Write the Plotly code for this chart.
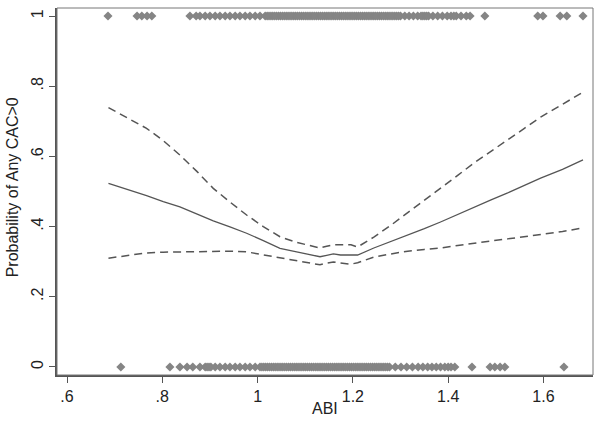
import plotly.graph_objects as go

# Fitted probability curve and confidence bounds
abi_fit = [0.687, 0.727, 0.767, 0.802, 0.837, 0.872, 0.907, 0.942, 0.977, 1.012, 1.047, 1.082,
           1.117, 1.131, 1.145, 1.159, 1.174, 1.196, 1.210, 1.244, 1.280, 1.315, 1.350, 1.384,
           1.420, 1.454, 1.490, 1.525, 1.560, 1.594, 1.640, 1.683]
prob = [0.523, 0.506, 0.488, 0.471, 0.456, 0.436, 0.416, 0.399, 0.381, 0.360, 0.338, 0.328,
        0.318, 0.314, 0.318, 0.322, 0.319, 0.319, 0.319, 0.339, 0.357, 0.376, 0.394, 0.413,
        0.435, 0.456, 0.476, 0.496, 0.517, 0.538, 0.563, 0.590]
upper = [0.739, 0.710, 0.680, 0.645, 0.604, 0.558, 0.509, 0.470, 0.433, 0.400, 0.371, 0.355,
         0.343, 0.339, 0.344, 0.348, 0.348, 0.348, 0.342, 0.370, 0.404, 0.439, 0.474, 0.510,
         0.546, 0.581, 0.614, 0.647, 0.680, 0.712, 0.748, 0.783]
lower = [0.310, 0.318, 0.325, 0.327, 0.328, 0.329, 0.330, 0.330, 0.328, 0.320, 0.310, 0.302,
         0.294, 0.291, 0.296, 0.299, 0.296, 0.293, 0.297, 0.313, 0.322, 0.330, 0.335, 0.339,
         0.346, 0.353, 0.359, 0.365, 0.371, 0.376, 0.386, 0.396]

# Observed ABI values with CAC>0 (y = 1)
abi_cac1 = [0.686, 0.747, 0.757, 0.768, 0.778, 0.858, 0.871, 0.879, 0.890, 0.900, 0.911, 0.921,
            0.932, 0.942, 0.953, 0.963, 0.974, 0.984, 0.995, 1.005,
            1.016, 1.020, 1.024, 1.028, 1.032, 1.036, 1.040, 1.044, 1.048, 1.052, 1.056, 1.060,
            1.064, 1.068, 1.072, 1.076, 1.080, 1.084, 1.088, 1.092, 1.096, 1.100, 1.104, 1.108,
            1.112, 1.116, 1.120, 1.124, 1.128, 1.132, 1.136, 1.140, 1.144, 1.148, 1.152, 1.156,
            1.160, 1.164, 1.168, 1.172, 1.176, 1.180, 1.184, 1.188, 1.192, 1.196, 1.200, 1.204,
            1.208, 1.212, 1.216, 1.220, 1.224, 1.228, 1.232, 1.236, 1.240, 1.244, 1.248, 1.252,
            1.256, 1.260, 1.264, 1.268, 1.272, 1.276, 1.280, 1.284, 1.288, 1.292, 1.296, 1.300,
            1.309, 1.318, 1.327, 1.336, 1.343, 1.347, 1.351, 1.355, 1.359, 1.368, 1.378, 1.388,
            1.398, 1.406, 1.412, 1.417, 1.427, 1.438, 1.446, 1.477, 1.588, 1.599, 1.635, 1.649,
            1.683]

# Observed ABI values with CAC=0 (y = 0)
abi_cac0 = [0.713, 0.816, 0.837, 0.852, 0.864, 0.879, 0.890, 0.894, 0.898, 0.902, 0.911, 0.921,
            0.932, 0.942, 0.953, 0.963, 0.974, 0.984, 0.995,
            1.005, 1.009, 1.013, 1.017, 1.021, 1.025, 1.029, 1.033, 1.037, 1.041, 1.045, 1.049,
            1.053, 1.057, 1.061, 1.065, 1.069, 1.073, 1.077, 1.081, 1.085, 1.089, 1.093, 1.097,
            1.101, 1.105, 1.109, 1.113, 1.117, 1.121, 1.125, 1.129, 1.133, 1.137, 1.141, 1.145,
            1.149, 1.153, 1.157, 1.161, 1.165, 1.169, 1.173, 1.177, 1.181, 1.185, 1.189, 1.193,
            1.197, 1.201, 1.205, 1.209, 1.213, 1.217, 1.221, 1.225, 1.229, 1.233, 1.237, 1.241,
            1.245, 1.249, 1.253, 1.257, 1.261, 1.265, 1.269, 1.273, 1.277,
            1.289, 1.301, 1.313, 1.325, 1.337, 1.347, 1.357, 1.366, 1.375, 1.384, 1.393, 1.400,
            1.406, 1.414, 1.450, 1.488, 1.498, 1.509, 1.519, 1.643]

x_ticks = [0.6, 0.8, 1.0, 1.2, 1.4, 1.6]
x_labels = [".6", ".8", "1", "1.2", "1.4", "1.6"]
y_ticks = [0, 0.2, 0.4, 0.6, 0.8, 1.0]
y_labels = ["0", ".2", ".4", ".6", ".8", "1"]

marker_col = "#858585"
line_col = "#555555"
font = "Liberation Sans, Arial, sans-serif"

fig = go.Figure()
for xs, yv in [(abi_cac1, 1), (abi_cac0, 0)]:
    fig.add_trace(go.Scatter(x=xs, y=[yv] * len(xs), mode="markers",
                             marker=dict(symbol="diamond", size=7, color=marker_col,
                                         line=dict(width=0))))
fig.add_trace(go.Scatter(x=abi_fit, y=upper, mode="lines",
                         line=dict(color=line_col, width=1.5, dash="8px,5px")))
fig.add_trace(go.Scatter(x=abi_fit, y=lower, mode="lines",
                         line=dict(color=line_col, width=1.5, dash="8px,5px")))
fig.add_trace(go.Scatter(x=abi_fit, y=prob, mode="lines",
                         line=dict(color=line_col, width=1.3)))

fig.add_shape(type="rect", xref="paper", yref="paper", x0=0, y0=0, x1=1, y1=1,
              line=dict(color="#777777", width=1), layer="above")

fig.add_annotation(text="ABI", xref="paper", yref="paper", x=0.5, y=-33 / 367,
                   xanchor="center", yanchor="middle", showarrow=False,
                   font=dict(family=font, size=16, color="#222222"))
fig.add_annotation(text="Probability of Any CAC>0", xref="paper", yref="paper",
                   x=-44.5 / 536, y=0.51, xanchor="center", yanchor="middle", textangle=-90,
                   showarrow=False, font=dict(family=font, size=16, color="#222222"))

fig.update_layout(
    width=601, height=427,
    margin=dict(l=57, r=8, t=8, b=52, autoexpand=False),
    paper_bgcolor="white", plot_bgcolor="white",
    showlegend=False,
    font=dict(family=font, size=16, color="#222222"),
    xaxis=dict(range=[0.579, 1.704], tickmode="array", tickvals=x_ticks, ticktext=x_labels,
               ticks="outside", ticklen=6, tickcolor="#555555", tickwidth=1,
               showgrid=False, zeroline=False, showline=True, linecolor="#555555", linewidth=2,
               tickfont=dict(size=16), automargin=False),
    yaxis=dict(range=[-0.023, 1.023], tickmode="array", tickvals=y_ticks, ticktext=y_labels,
               ticks="outside", ticklen=6, tickcolor="#555555", tickwidth=1, tickangle=-90,
               showgrid=False, zeroline=False, showline=True, linecolor="#555555", linewidth=2,
               tickfont=dict(size=16), automargin=False),
)

fig.write_html("out.html", config={"displayModeBar": False},
               post_script="document.body.style.margin='0';")
